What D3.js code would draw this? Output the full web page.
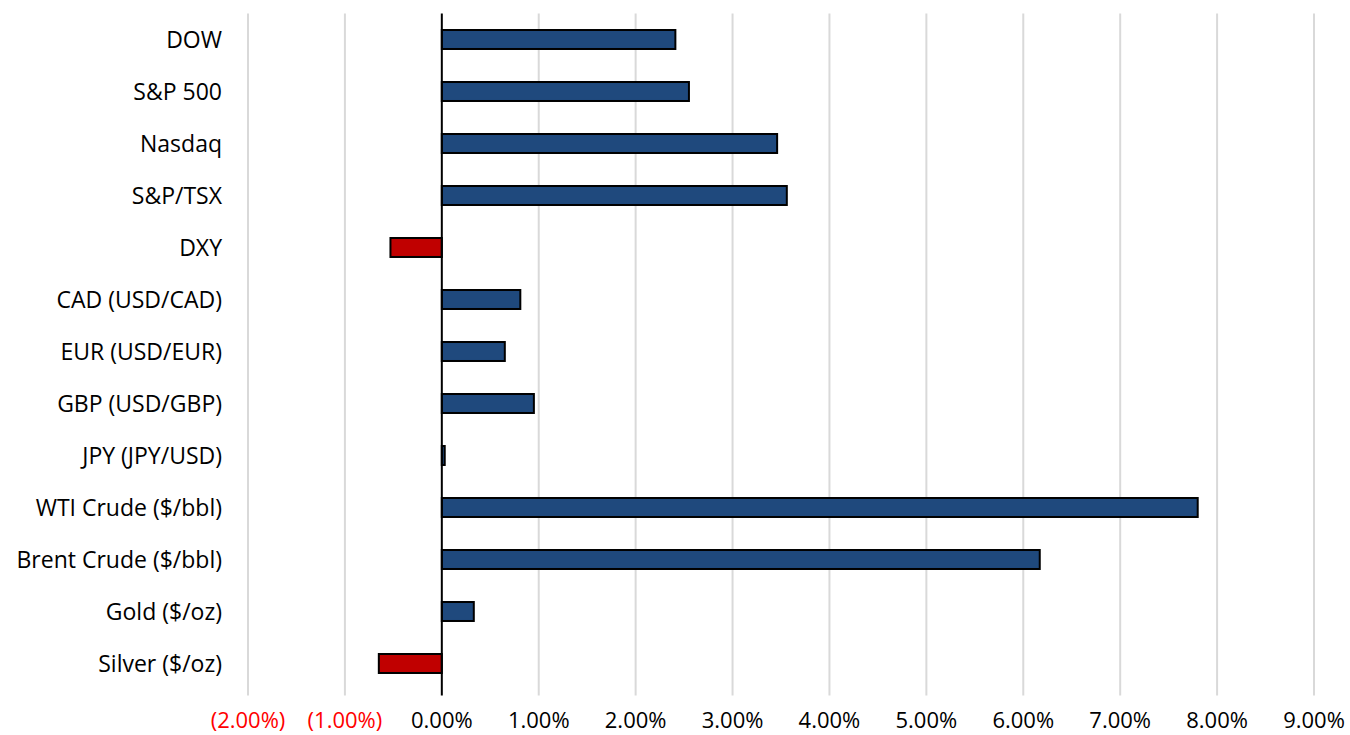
<!DOCTYPE html>
<html>
<head>
<meta charset="utf-8">
<script src="https://cdn.jsdelivr.net/npm/d3@7"></script>
<style>
  body { margin: 0; background: #fff; }
  svg text { font-family: "Open Sans", "Noto Sans", sans-serif; }
</style>
</head>
<body>
<svg id="chart" width="1350" height="735"></svg>
<script>
const categories = [
  "DOW", "S&P 500", "Nasdaq", "S&P/TSX", "DXY", "CAD (USD/CAD)", "EUR (USD/EUR)",
  "GBP (USD/GBP)", "JPY (JPY/USD)", "WTI Crude ($/bbl)", "Brent Crude ($/bbl)",
  "Gold ($/oz)", "Silver ($/oz)"
];
const changes = [2.41, 2.55, 3.46, 3.56, -0.53, 0.81, 0.65, 0.95, 0.03, 7.80, 6.17, 0.33, -0.65];
const ticks = [-2, -1, 0, 1, 2, 3, 4, 5, 6, 7, 8, 9];

const svg = d3.select("#chart");
const margin = { top: 13.5, right: 36, bottom: 45.5, left: 248 };
const width = 1350, height = 735;

const x = d3.scaleLinear().domain([-2, 9]).range([248, 1314]);
const y = d3.scaleBand()
  .domain(categories)
  .range([margin.top, height - margin.bottom])
  .paddingInner(0.635)
  .paddingOuter(0.3175);

// gridlines
svg.append("g")
  .selectAll("line")
  .data(ticks.filter((t) => t !== 0))
  .enter()
  .append("line")
  .attr("x1", (d) => x(d))
  .attr("x2", (d) => x(d))
  .attr("y1", margin.top)
  .attr("y2", height - margin.bottom + 6)
  .attr("stroke", "#d9d9d9")
  .attr("stroke-width", 2);

// bars
svg.append("g")
  .selectAll("rect")
  .data(changes)
  .enter()
  .append("rect")
  .attr("x", (d) => x(Math.min(0, d)))
  .attr("y", (d, i) => y(categories[i]))
  .attr("width", (d) => Math.abs(x(d) - x(0)))
  .attr("height", y.bandwidth())
  .attr("fill", (d) => (d < 0 ? "#c00000" : "#1f497d"))
  .attr("stroke", "#000")
  .attr("stroke-width", 2);

// zero axis
svg.append("line")
  .attr("x1", x(0))
  .attr("x2", x(0))
  .attr("y1", margin.top)
  .attr("y2", height - margin.bottom + 6)
  .attr("stroke", "#000")
  .attr("stroke-width", 2);

// category labels
svg.append("g")
  .selectAll("text")
  .data(categories)
  .enter()
  .append("text")
  .attr("x", 222)
  .attr("y", (d) => y(d) + y.bandwidth() / 2)
  .attr("dy", "0.35em")
  .attr("text-anchor", "end")
  .attr("font-size", 23)
  .attr("fill", "#000")
  .text((d) => d);

// x tick labels
const fmt = (t) => (t < 0 ? "(" + Math.abs(t).toFixed(2) + "%)" : t.toFixed(2) + "%");
svg.append("g")
  .selectAll("text")
  .data(ticks)
  .enter()
  .append("text")
  .attr("x", (d) => x(d))
  .attr("y", 720)
  .attr("dy", "0.35em")
  .attr("text-anchor", "middle")
  .attr("font-size", 22)
  .attr("fill", (d) => (d < 0 ? "#ff0000" : "#000"))
  .text(fmt);
</script>
</body>
</html>
